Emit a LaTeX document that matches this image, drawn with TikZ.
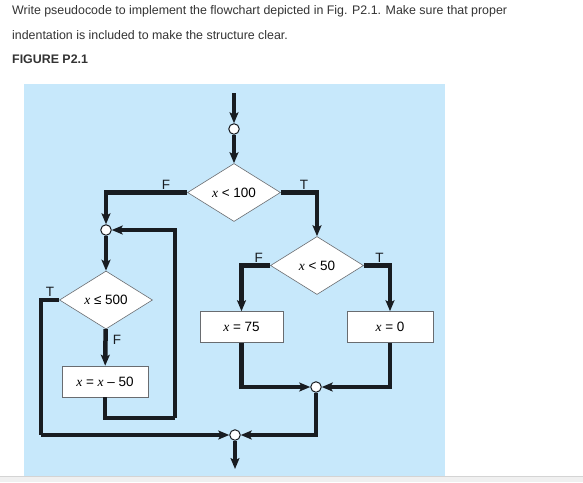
\documentclass[tikz,border=0pt]{standalone}
\usepackage{fontspec}
\setmainfont{Liberation Sans}
\newfontfamily\varfont{Liberation Serif}
\usetikzlibrary{arrows.meta,positioning,calc,shapes.geometric}
\definecolor{figblue}{RGB}{199,232,251}
\definecolor{flowink}{RGB}{24,28,33}
\definecolor{edgegray}{RGB}{105,108,112}
\definecolor{textgray}{RGB}{51,51,51}
\definecolor{stripgray}{RGB}{240,240,240}
\definecolor{rulegray}{RGB}{212,212,212}
\newcommand{\xv}{{\varfont\itshape x}}
\tikzset{
  decide/.style={diamond, draw=edgegray, fill=white, line width=0.6pt, inner sep=0pt,
                 minimum width=93pt, minimum height=58pt, font=\fontsize{13.5}{15}\selectfont},
  action/.style={rectangle, draw=edgegray, fill=white, line width=0.6pt,
                 minimum width=85pt, minimum height=31pt, font=\fontsize{13.5}{15}\selectfont},
  junct/.style={circle, draw=flowink, fill=white, line width=1pt, minimum size=10.5pt, inner sep=0pt},
  flow/.style={-{Stealth[length=11pt, width=9pt, inset=2.5pt]}, line width=4.5pt, draw=flowink},
  link/.style={line width=4.5pt, draw=flowink},
  tf/.style={font=\fontsize{13.5}{15}\selectfont, text=flowink, inner sep=1pt},
  prose/.style={anchor=base west, inner sep=0pt, text=textgray, font=\fontsize{12.4}{15}\selectfont},
}
\begin{document}
\begin{tikzpicture}[x=1pt, y=-1pt]
  \useasboundingbox (0,0) rectangle (583,482);
  \fill[white] (0,0) rectangle (583,482);
  \fill[stripgray] (0,476) rectangle (583,482);
  \draw[rulegray, line width=1pt] (0,476) -- (583,476);
  \fill[figblue] (24,84) rectangle (445,475.5);

  % question text
  \node[prose] (q1) at (12,14.7) {Write pseudocode to implement the flowchart depicted in Fig. P2.1. Make sure that proper};
  \node[prose] (q2) at (12,39.5) {indentation is included to make the structure clear.};
  \node[prose, font=\fontsize{12.4}{15}\selectfont\bfseries] (fig) at (12,63.5) {FIGURE P2.1};

  % nodes
  \coordinate (start) at (234,93);
  \node[junct] (jtop) at (234,129) {};
  \node[decide] (d100) at (234,192.5) {\xv\ < 100};
  \node[decide] (d50) at (317,265.5) {\xv\ < 50};
  \node[junct] (jloop) at (106,230) {};
  \node[decide] (d500) at (106,300) {\xv\ ≤ 500};
  \node[action, minimum width=86pt] (sub) at (105,381.5) {\xv\ = \xv\ – 50};
  \node[action, minimum width=83pt] (set75) at (241.5,327) {\xv\ = 75};
  \node[action, minimum width=86pt] (set0) at (390,327) {\xv\ = 0};
  \node[junct] (jmid) at (316,387) {};
  \node[junct] (jend) at (235,435) {};
  \coordinate (back) at (175,418);
  \coordinate (outer) at (41,435);
  \coordinate (finish) at (235,469);

  % connectors
  \draw[flow] (start) -- (jtop);
  \draw[flow] (jtop) -- (d100);
  \draw[flow] (d100.west) -| node[tf, above, pos=0.13] (f1) {F} (jloop);
  \draw[flow] (d100.east) -| node[tf, above, pos=0.32] (t1) {T} (d50);
  \draw[flow] (jloop) -- (d500);
  \draw[flow] (d500) -- node[tf, right=4pt, pos=0.3] (f2) {F} (sub);
  \draw[link] (sub.south) |- (back);
  \draw[flow] (back) |- (jloop);
  \draw[link] (d500.west) -| node[tf, above, pos=0.25] (t2) {T} (outer);
  \draw[flow] (outer) -- (jend);
  \draw[flow] (d50.west) -| node[tf, above, pos=0.2] (f3) {F} (set75);
  \draw[flow] (d50.east) -| node[tf, above, pos=0.3] (t3) {T} (set0);
  \draw[flow] (set75.south) |- (jmid);
  \draw[flow] (set0.south) |- (jmid);
  \draw[flow] (jmid) |- (jend);
  \draw[flow] (jend) -- (finish);
\end{tikzpicture}
\end{document}
